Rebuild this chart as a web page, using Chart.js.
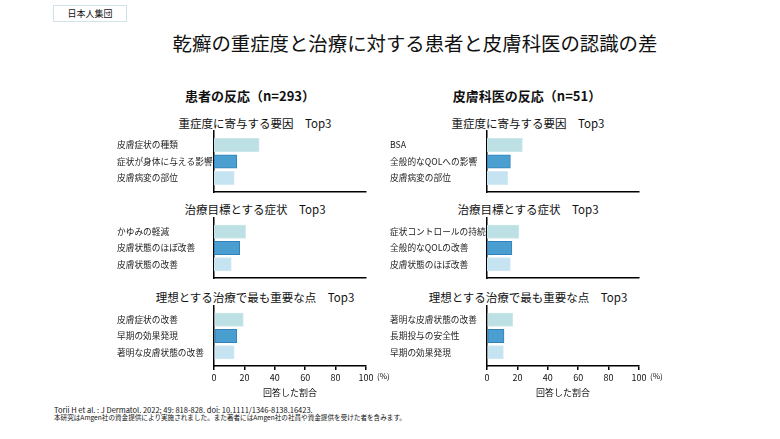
<!DOCTYPE html>
<html lang="ja">
<head>
<meta charset="utf-8">
<script src="https://cdn.jsdelivr.net/npm/chart.js@4/dist/chart.umd.min.js"></script>
<style>
  body { margin: 0; width: 780px; height: 439px; background: #fff; position: relative; overflow: hidden;
         font-family: "Noto Sans CJK JP", sans-serif; color: #111; }
  .t { position: absolute; white-space: nowrap; transform: translate(-50%, -50%); }
  .l { position: absolute; white-space: nowrap; }
  canvas { position: absolute; }
  #tag { position: absolute; left: 53px; top: 5px; width: 72px; height: 15px; border: 1px solid #cfe3ea;
         font-size: 9px; line-height: 15px; text-align: center; }
</style>
</head>
<body>
<div id="tag">日本人集団</div>
<div class="t" style="left:415px; top:42px; font-size:19.4px;">乾癬の重症度と治療に対する患者と皮膚科医の認識の差</div>

<div class="t" style="left:250px; top:95px; font-size:13px; font-weight:bold;">患者の反応（n=293）</div>
<div class="t" style="left:527px; top:95px; font-size:13px; font-weight:bold;">皮膚科医の反応（n=51）</div>

<div class="t" style="left:255px; top:122.5px; font-size:11.5px;">重症度に寄与する要因　Top3</div>
<div class="t" style="left:255px; top:208.5px; font-size:11.5px;">治療目標とする症状　Top3</div>
<div class="t" style="left:255px; top:296.5px; font-size:11.5px;">理想とする治療で最も重要な点　Top3</div>
<div class="t" style="left:528px; top:122.5px; font-size:11.5px;">重症度に寄与する要因　Top3</div>
<div class="t" style="left:528px; top:208.5px; font-size:11.5px;">治療目標とする症状　Top3</div>
<div class="t" style="left:528px; top:296.5px; font-size:11.5px;">理想とする治療で最も重要な点　Top3</div>

<canvas id="pA" width="265" height="77" style="left:117px; top:123px;"></canvas>
<canvas id="pB" width="265" height="76" style="left:117px; top:210px;"></canvas>
<canvas id="pC" width="265" height="102" style="left:117px; top:298px;"></canvas>
<canvas id="dA" width="265" height="77" style="left:390px; top:123px;"></canvas>
<canvas id="dB" width="265" height="76" style="left:390px; top:210px;"></canvas>
<canvas id="dC" width="265" height="102" style="left:390px; top:298px;"></canvas>

<div class="l" style="left:377px; top:370px; font-size:8px; color:#111;">(%)</div>
<div class="l" style="left:650px; top:370px; font-size:8px; color:#111;">(%)</div>

<div class="l" style="left:54px; top:406px; font-size:7.5px; line-height:7.5px; color:#111;">Torii H et al. : J Dermatol. 2022; 49: 818-828. doi: 10.1111/1346-8138.16423.</div>
<div class="l" style="left:54px; top:414px; font-size:6.6px; line-height:7.5px; color:#111;">本研究はAmgen社の資金提供により実施されました。また著者にはAmgen社の社員や資金提供を受けた者を含みます。</div>

<script>
// 患者の反応
const patientSeverityLabels = ["皮膚症状の種類", "症状が身体に与える影響", "皮膚病変の部位"];
const patientSeverity = [29.7, 15.0, 13.3];
const patientGoalLabels = ["かゆみの軽減", "皮膚状態のほぼ改善", "皮膚状態の改善"];
const patientGoal = [20.8, 16.9, 11.4];
const patientIdealLabels = ["皮膚症状の改善", "早期の効果発現", "著明な皮膚状態の改善"];
const patientIdeal = [19.3, 15.0, 13.3];

// 皮膚科医の反応
const dermSeverityLabels = ["BSA", "全般的なQOLへの影響", "皮膚病変の部位"];
const dermSeverity = [23.3, 15.4, 13.6];
const dermGoalLabels = ["症状コントロールの持続", "全般的なQOLの改善", "皮膚状態のほぼ改善"];
const dermGoal = [21.0, 16.4, 15.4];
const dermIdealLabels = ["著明な皮膚状態の改善", "長期投与の安全性", "早期の効果発現"];
const dermIdeal = [16.9, 11.2, 10.8];

const xTicks = [0, 20, 40, 60, 80, 100];

const barColors = ["#bde0e4", "#4a9fd0", "#c5e3f1"];
const barBorders = ["#cce8eb", "#2f82bc", "#d3eaf5"];
const jp = "'Noto Sans CJK JP', sans-serif";

function makePanel(id, labels, values, bottom) {
  return new Chart(document.getElementById(id), {
    type: "bar",
    data: {
      datasets: [{
        data: values.map((v, i) => ({ x: v, y: i })),
        backgroundColor: barColors,
        borderColor: barBorders,
        borderWidth: 1,
        borderSkipped: false,
        barThickness: 13.5
      }]
    },
    options: {
      indexAxis: "y",
      responsive: false,
      animation: false,
      layout: { padding: { top: 8, right: 16, bottom: bottom ? 0 : 8, left: 0 } },
      plugins: { legend: { display: false }, tooltip: { enabled: false } },
      scales: {
        x: {
          type: "linear", min: 0, max: 100,
          afterBuildTicks: s => { s.ticks = xTicks.map(v => ({ value: v })); },
          afterFit: s => { s.height = bottom ? 34 : 0; },
          border: { display: true, color: "#000", width: 1.5 },
          grid: { display: bottom, drawOnChartArea: false, tickLength: 4, color: "#000", lineWidth: 1.5 },
          ticks: { display: bottom, padding: 2, color: "#111", font: { family: jp, size: 9 } },
          title: { display: bottom, text: "回答した割合", color: "#111", padding: { top: 0, bottom: 2 },
                   font: { family: jp, size: 9 } }
        },
        y: {
          // linear index axis so the axis line can run past the first and last bar
          type: "linear", reverse: true, min: -0.85, max: 2.85, offset: false,
          afterBuildTicks: s => { s.ticks = labels.map((l, i) => ({ value: i })); },
          afterFit: s => { s.width = 97; },
          border: { display: true, color: "#000", width: 1.5 },
          grid: { display: false, offset: false },
          ticks: { crossAlign: "far", padding: 0, color: "#222", autoSkip: false,
                   callback: v => labels[v], font: { family: jp, size: 8.7 } }
        }
      }
    }
  });
}

makePanel("pA", patientSeverityLabels, patientSeverity, false);
makePanel("pB", patientGoalLabels, patientGoal, false);
makePanel("pC", patientIdealLabels, patientIdeal, true);
makePanel("dA", dermSeverityLabels, dermSeverity, false);
makePanel("dB", dermGoalLabels, dermGoal, false);
makePanel("dC", dermIdealLabels, dermIdeal, true);
</script>
</body>
</html>
